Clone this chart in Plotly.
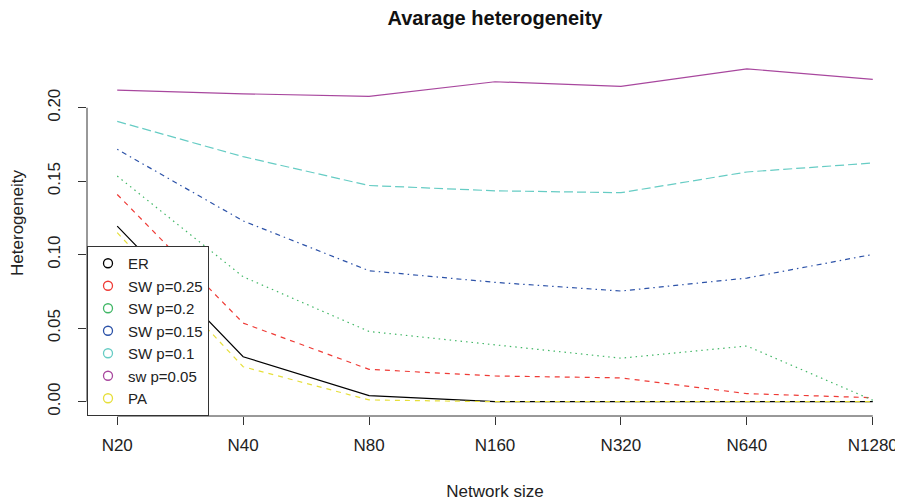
import plotly.graph_objects as go

categories = ["N20", "N40", "N80", "N160", "N320", "N640", "N1280"]

er = [0.1195, 0.0306, 0.0041, 0.0, 0.0, 0.0, 0.0]
sw_025 = [0.1410, 0.0535, 0.0220, 0.0175, 0.0162, 0.0055, 0.0027]
sw_02 = [0.1535, 0.0850, 0.0478, 0.0388, 0.0296, 0.0379, 0.0010]
sw_015 = [0.1717, 0.1230, 0.0891, 0.0812, 0.0753, 0.0841, 0.1002]
sw_01 = [0.1907, 0.1667, 0.1471, 0.1435, 0.1422, 0.1563, 0.1624]
sw_005 = [0.2120, 0.2095, 0.2078, 0.2177, 0.2146, 0.2265, 0.2193]
pa = [0.1150, 0.0238, 0.0012, 0.0, 0.0, 0.0, 0.0]

series_names = ["ER", "SW p=0.25", "SW p=0.2", "SW p=0.15", "SW p=0.1", "sw p=0.05", "PA"]
series_values = [er, sw_025, sw_02, sw_015, sw_01, sw_005, pa]
series_colors = ["#000000", "#EF3B36", "#41B766", "#2C52A8", "#66CCC4", "#A8479E", "#E6DF3A"]
series_dash = ["solid", "5px,5px", "1.5px,4px", "1.5px,4px,5px,4px", "9px,4px", "solid", "5px,5px"]

y_ticks = [0.00, 0.05, 0.10, 0.15, 0.20]
y_ticklabels = ["0.00", "0.05", "0.10", "0.15", "0.20"]

FONT = "Liberation Sans, Arial, Helvetica, sans-serif"
TXT = "#222222"

fig = go.Figure()
for name, vals, col, dash in zip(series_names, series_values, series_colors, series_dash):
    fig.add_trace(go.Scatter(
        x=categories, y=vals, mode="lines", name=name, showlegend=False,
        line=dict(color=col, width=1.2, dash=dash),
    ))
# legend entries (open circles as in the original legend)
for name, col in zip(series_names, series_colors):
    fig.add_trace(go.Scatter(
        x=[None], y=[None], mode="markers", name=name, showlegend=True,
        marker=dict(symbol="circle-open", size=9, color=col, line=dict(width=1.3, color=col)),
    ))

# R-style axis lines spanning first to last tick
fig.add_shape(type="line", xref="paper", yref="y", x0=0, x1=0,
              y0=y_ticks[0], y1=y_ticks[-1], line=dict(color="#333333", width=1))
fig.add_shape(type="line", xref="x", yref="paper", x0=0, x1=len(categories) - 1,
              y0=0, y1=0, line=dict(color="#333333", width=1))

# the page body adds an 8px offset, so the figure is sized to fit the window
W, H = 895, 496

fig.update_layout(
    width=W, height=H,
    margin=dict(l=79, r=0, t=22, b=88, autoexpand=False),
    paper_bgcolor="white", plot_bgcolor="white",
    font=dict(family=FONT, size=17, color=TXT),
    title=dict(text="<b>Avarage heterogeneity</b>", x=0.5, xref="paper",
               y=1 - 10 / H, yref="container", yanchor="middle",
               font=dict(size=20, color="#111111")),
    legend=dict(x=0, y=0, xanchor="left", yanchor="bottom",
                bgcolor="white", bordercolor="#333333", borderwidth=1,
                font=dict(size=15, color=TXT), tracegroupgap=0),
    xaxis=dict(type="category", range=[-0.24, len(categories) - 1 + 0.24],
               automargin=False,
               showgrid=False, zeroline=False, showline=False,
               ticks="outside", ticklen=8, tickcolor="#333333", tickwidth=1,
               ticklabelstandoff=6,
               title=dict(text="Network size", standoff=30, font=dict(size=17))),
    yaxis=dict(range=[-0.00973, 0.2529], tickvals=y_ticks, ticktext=y_ticklabels,
               automargin=False,
               showgrid=False, zeroline=False, showline=False,
               ticks="outside", ticklen=8, tickcolor="#333333", tickwidth=1,
               tickangle=-90, ticklabelstandoff=11,
               title=dict(text="Heterogeneity", standoff=23, font=dict(size=17))),
)

fig.write_html("out.html")
